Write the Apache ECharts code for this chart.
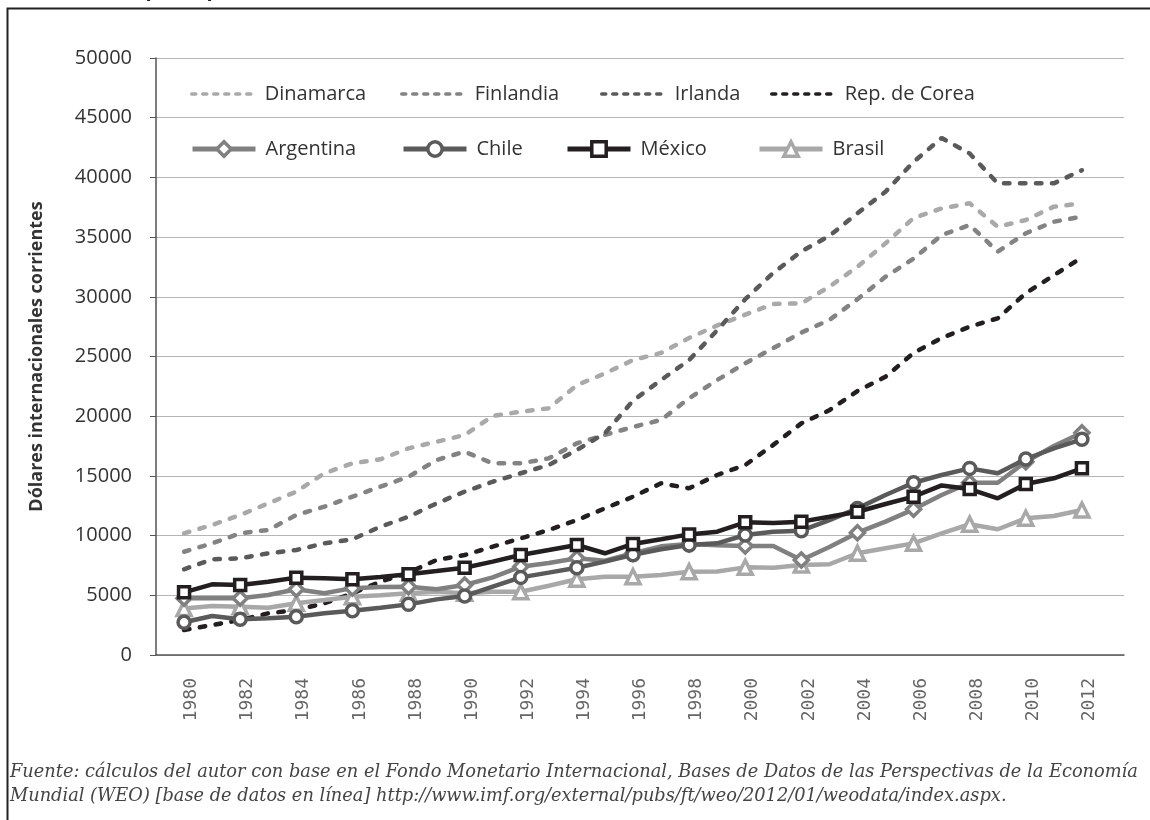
<!DOCTYPE html>
<html>
<head>
<meta charset="utf-8">
<title>PIB per cápita (PPA)</title>
<script src="https://cdn.jsdelivr.net/npm/echarts@6.0.0/dist/echarts.min.js"></script>
<style>
  html, body { margin: 0; padding: 0; background: #fff; }
  #grafico { width: 1150px; height: 820px; }
</style>
</head>
<body>
<div id="grafico"></div>
<script>
// años y etiquetas del eje X
var years = [1980, 1981, 1982, 1983, 1984, 1985, 1986, 1987, 1988, 1989, 1990, 1991, 1992, 1993, 1994, 1995, 1996,
  1997, 1998, 1999, 2000, 2001, 2002, 2003, 2004, 2005, 2006, 2007, 2008, 2009, 2010, 2011, 2012];
var xLabels = [1980, 1982, 1984, 1986, 1988, 1990, 1992, 1994, 1996, 1998, 2000, 2002, 2004, 2006, 2008, 2010, 2012];

// dólares internacionales corrientes
var dinamarca = [10190, 10890, 11725, 12700, 13680, 15220, 16050, 16390, 17310, 17860, 18425, 20020, 20380, 20660, 22600, 23590, 24700,
  25300, 26550, 27600, 28500, 29400, 29450, 30850, 32520, 34480, 36600, 37400, 37830, 35870, 36430, 37550, 37830];
var finlandia = [8650, 9350, 10190, 10470, 11725, 12420, 13260, 14100, 14930, 16330, 17030, 16050, 16050, 16470, 17730, 18425, 19100,
  19680, 21500, 23030, 24430, 25700, 27000, 28060, 29800, 31680, 33200, 35170, 36010, 33780, 35320, 36290, 36710];
var irlanda = [7180, 8010, 8100, 8520, 8790, 9350, 9690, 10750, 11580, 12700, 13680, 14510, 15220, 15910, 17170, 18570, 21300,
  23030, 24700, 27200, 29800, 32000, 33800, 35100, 37000, 38800, 41300, 43300, 42000, 39500, 39500, 39500, 40600];
var corea = [2090, 2510, 2930, 3490, 3770, 4330, 5165, 6140, 6890, 7960, 8375, 9070, 9770, 10470, 11300, 12280, 13260,
  14380, 13960, 15075, 15910, 17600, 19400, 20500, 22100, 23300, 25300, 26550, 27500, 28200, 30300, 31800, 33300];
var argentina = [4750, 4750, 4750, 5025, 5500, 5165, 5600, 5700, 5720, 5500, 5860, 6500, 7400, 7700, 8100, 7900, 8520,
  9100, 9300, 9200, 9130, 9130, 7960, 9050, 10245, 11170, 12200, 13400, 14430, 14430, 16190, 17500, 18620];
var chile = [2740, 3270, 2990, 3070, 3210, 3490, 3710, 3960, 4240, 4660, 4940, 5720, 6500, 6900, 7310, 7820, 8400,
  8850, 9210, 9350, 10050, 10330, 10410, 11300, 12280, 13400, 14430, 15075, 15630, 15220, 16415, 17310, 18060];
var mexico = [5250, 5920, 5860, 6140, 6480, 6420, 6340, 6540, 6760, 7030, 7310, 7820, 8375, 8790, 9210, 8520, 9300,
  9690, 10100, 10330, 11110, 11050, 11170, 11580, 12000, 12650, 13260, 14200, 13900, 13120, 14320, 14800, 15640];
var brasil = [3900, 4100, 4050, 3950, 4330, 4600, 4885, 5000, 5165, 5300, 5165, 5300, 5300, 5800, 6340, 6550, 6560,
  6700, 6980, 7000, 7340, 7300, 7540, 7600, 8520, 8940, 9350, 10190, 10950, 10530, 11450, 11640, 12140];

var fuente = [
  'Fuente: cálculos del autor con base en el Fondo Monetario Internacional, Bases de Datos de las Perspectivas de la Economía',
  'Mundial (WEO) [base de datos en línea] http://www.imf.org/external/pubs/ft/weo/2012/01/weodata/index.aspx.'
];

var chart = echarts.init(document.getElementById('grafico'));

// pares [año, valor]; marcas solo en años pares
function pares(vals, marcas) {
  return years.map(function (y, i) {
    var p = { value: [y, vals[i]] };
    if (marcas && i % 2 === 1) p.symbol = 'none';
    return p;
  });
}

function punteada(nombre, vals, color) {
  return {
    name: nombre, type: 'line', data: pares(vals, false), symbol: 'none', z: 2,
    lineStyle: { color: color, width: 4.5, type: [5.5, 10.5], cap: 'round' },
    itemStyle: { color: color }
  };
}

function conMarca(nombre, vals, color, simbolo, tam, z) {
  return {
    name: nombre, type: 'line', data: pares(vals, true), symbol: simbolo, symbolSize: tam, z: z,
    lineStyle: { color: color, width: 4.5 },
    itemStyle: { color: '#fff', borderColor: color, borderWidth: 3.5 }
  };
}

function leyenda(nombre, left, top, alto, punteo) {
  var l = {
    data: [nombre], left: left, top: top, padding: 0,
    itemWidth: 63, itemHeight: alto,
    textStyle: { fontFamily: 'Open Sans', fontSize: 20, color: '#333', padding: [0, 0, 0, 5] }
  };
  if (punteo) {
    l.lineStyle = { type: [4, 7], width: 3.5, cap: 'round' };
    l.itemStyle = { opacity: 0 };
  } else {
    l.lineStyle = { width: 5 };
    l.itemStyle = { borderWidth: 3.5 };
  }
  return l;
}

chart.setOption({
  animation: false,
  backgroundColor: '#fff',
  grid: { left: 156, right: 26, top: 58, bottom: 165 },
  legend: [
    leyenda('Dinamarca', 190, 84, 14, true),
    leyenda('Finlandia', 400, 84, 14, true),
    leyenda('Irlanda', 600, 84, 14, true),
    leyenda('Rep. de Corea', 770, 84, 14, true),
    leyenda('Argentina', 190, 139, 18),
    leyenda('Chile', 401, 139, 18),
    leyenda('México', 565, 139, 18),
    leyenda('Brasil', 757, 139, 18)
  ],
  xAxis: {
    type: 'value', min: 1979, max: 2013.5, interval: 1,
    splitLine: { show: false },
    axisTick: { show: false },
    axisLine: { lineStyle: { color: '#555', width: 1.5 } },
    axisLabel: {
      rotate: 90, margin: 23, verticalAlign: 'top', lineHeight: 15,
      fontFamily: 'DejaVu Sans Mono', fontSize: 18, color: '#666',
      showMinLabel: false, showMaxLabel: false,
      formatter: function (v) { return xLabels.indexOf(v) >= 0 ? String(v) : ''; }
    }
  },
  yAxis: {
    type: 'value', min: 0, max: 50000, interval: 5000,
    name: 'Dólares internacionales corrientes', nameLocation: 'middle', nameGap: 110,
    nameTextStyle: { fontFamily: 'Open Sans', fontWeight: 'bold', fontSize: 18, color: '#333' },
    axisLine: { show: true, lineStyle: { color: '#555', width: 1.5 } },
    axisTick: { show: true, length: 6, lineStyle: { color: '#555' } },
    splitLine: { lineStyle: { color: '#b5b5b5', width: 1 } },
    axisLabel: {
      margin: 24, fontFamily: 'Open Sans', fontSize: 20, color: '#333',
      formatter: function (v) { return String(v); }
    }
  },
  series: [
    punteada('Dinamarca', dinamarca, '#a9a9a9'),
    punteada('Finlandia', finlandia, '#838383'),
    punteada('Irlanda', irlanda, '#5a5a5a'),
    punteada('Rep. de Corea', corea, '#231f20'),
    conMarca('Argentina', argentina, '#808080', 'diamond', 14, 4),
    conMarca('Chile', chile, '#5a5a5a', 'circle', 12, 5),
    conMarca('México', mexico, '#231f20', 'rect', 11, 6),
    conMarca('Brasil', brasil, '#a8a8a8', 'triangle', 14, 3)
  ],
  graphic: [
    {
      type: 'polyline', silent: true,
      shape: { points: [[7.5, 820], [7.5, 8.5], [1150, 8.5]] },
      style: { stroke: '#222', lineWidth: 2, fill: null }
    },
    {
      type: 'text', left: 8, top: -20, silent: true,
      style: { text: 'Gráfico 1. PIB per cápita (PPA), 1980-2012', font: 'bold 20px "Open Sans"', fill: '#222' }
    },
    {
      type: 'text', left: 10, top: 760, silent: true,
      style: { text: fuente.join('\n'), font: 'italic 17.8px "DejaVu Serif"', lineHeight: 24, fill: '#444' }
    }
  ]
});
</script>
</body>
</html>
